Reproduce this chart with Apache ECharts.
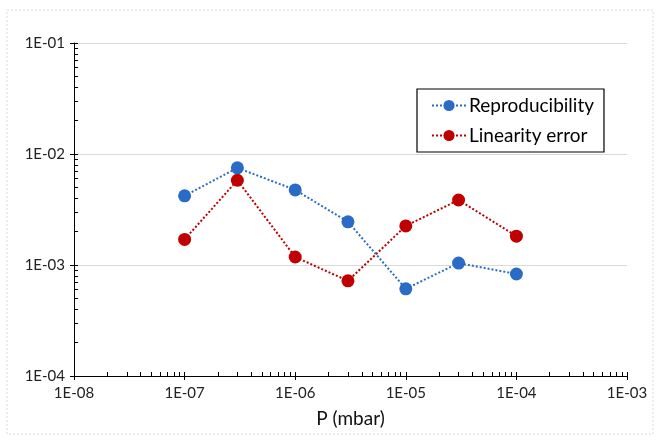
<!DOCTYPE html>
<html>
<head>
<meta charset="utf-8">
<script src="https://cdn.jsdelivr.net/npm/echarts@6/dist/echarts.min.js"></script>
<style>
  html, body { margin: 0; padding: 0; background: #fff; }
  #chart { width: 660px; height: 441px; }
</style>
</head>
<body>
<div id="chart"></div>
<script>
// pressure points (mbar)
const pressure = [1e-7, 3e-7, 1e-6, 3e-6, 1e-5, 3e-5, 1e-4]
const reproducibility = [4.2e-3, 7.5e-3, 4.75e-3, 2.45e-3, 6.1e-4, 1.04e-3, 8.3e-4]
const linearityError = [1.7e-3, 5.8e-3, 1.18e-3, 7.2e-4, 2.25e-3, 3.85e-3, 1.82e-3]
const seriesNames = ['Reproducibility', 'Linearity error']

const font = 'Lato, "Noto Sans", sans-serif'

// 1e-7 -> "1E-07"
function sci(v) {
  const e = Math.round(Math.log10(v))
  const sign = e < 0 ? '-' : '+'
  return '1E' + sign + String(Math.abs(e)).padStart(2, '0')
}

const pairs = ys => pressure.map((p, i) => [p, ys[i]])

// main axis: labels + major ticks poking out
const logAxis = (min, max, extra) => Object.assign({
  type: 'log',
  logBase: 10,
  min,
  max,
  axisLine: { show: true, lineStyle: { color: '#000', width: 1 } },
  axisTick: { show: true, length: 4, lineStyle: { color: '#000' } },
  minorTick: { show: false },
  axisLabel: { formatter: sci, fontSize: 15, color: '#222' },
  splitLine: { show: false },
}, extra)

// overlay axis: only inside major + minor ticks
const tickAxis = (min, max) => ({
  type: 'log',
  logBase: 10,
  min,
  max,
  axisLine: { show: false },
  axisTick: { show: true, inside: true, length: 4, lineStyle: { color: '#000' } },
  minorTick: { show: true, splitNumber: 9, length: 4, lineStyle: { color: '#000' } },
  axisLabel: { show: false },
  splitLine: { show: false },
})

const chart = echarts.init(document.getElementById('chart'))

chart.setOption({
  animation: false,
  textStyle: { fontFamily: font },
  graphic: [{
    type: 'rect',
    shape: { x: 7, y: 10, width: 646, height: 424 },
    style: { fill: 'none', stroke: '#d9d9d9', lineWidth: 1, lineDash: [2, 2] },
    silent: true,
  }],
  grid: { left: 74, right: 33, top: 43, bottom: 65 },
  legend: {
    orient: 'vertical',
    left: 417,
    top: 89,
    padding: [7, 10, 7, 14],
    itemGap: 11,
    itemWidth: 34,
    itemHeight: 14,
    borderColor: '#000',
    borderWidth: 1.2,
    backgroundColor: '#fff',
    textStyle: { fontSize: 19, color: '#000', fontFamily: font, padding: [0, 0, 0, -2] },
    data: seriesNames,
  },
  xAxis: [
    logAxis(1e-8, 1e-3, {
      axisLabel: { formatter: sci, fontSize: 15, color: '#222', margin: 10 },
      name: 'P (mbar)',
      nameLocation: 'middle',
      nameGap: 33,
      nameTextStyle: { fontSize: 19, color: '#111' },
    }),
    Object.assign(tickAxis(1e-8, 1e-3), { position: 'bottom' }),
  ],
  yAxis: [
    logAxis(1e-4, 1e-1, {
      axisLabel: { formatter: sci, fontSize: 15, color: '#222', margin: 9 },
      splitLine: { show: true, lineStyle: { color: '#d9d9d9', width: 1 } },
    }),
    Object.assign(tickAxis(1e-4, 1e-1), { position: 'left' }),
  ],
  series: [
    {
      name: seriesNames[0],
      type: 'line',
      data: pairs(reproducibility),
      symbol: 'circle',
      symbolSize: 13,
      itemStyle: { color: '#2a6bc5' },
      lineStyle: { color: '#2a6bc5', width: 2, type: [2, 2] },
      z: 3,
    },
    {
      name: seriesNames[1],
      type: 'line',
      data: pairs(linearityError),
      symbol: 'circle',
      symbolSize: 13,
      itemStyle: { color: '#c00000' },
      lineStyle: { color: '#c00000', width: 2, type: [2, 2] },
      z: 2,
    },
  ],
})
</script>
</body>
</html>
